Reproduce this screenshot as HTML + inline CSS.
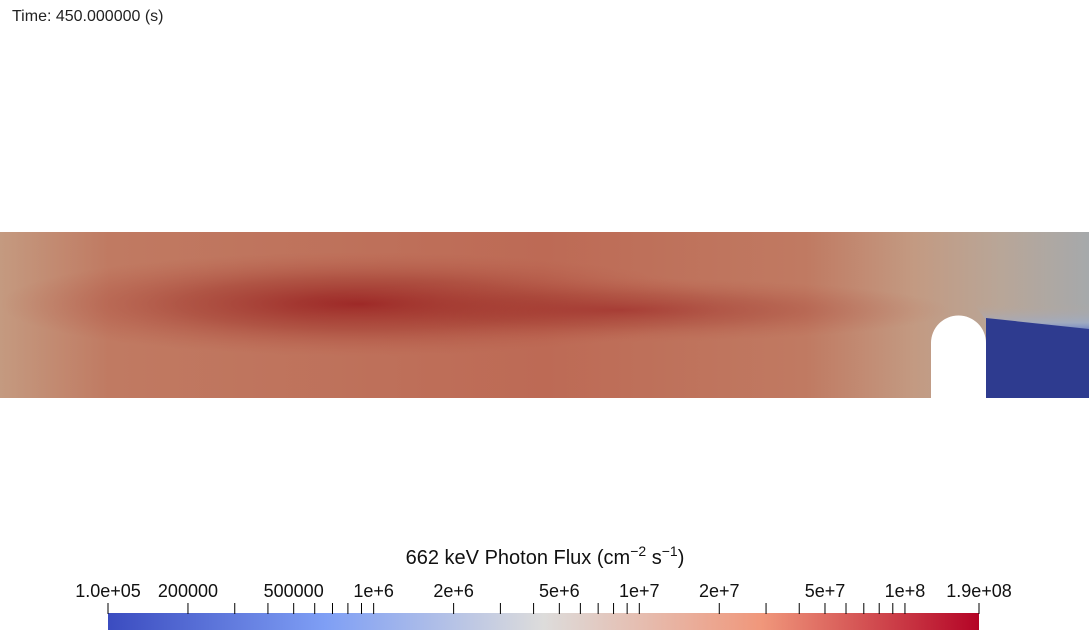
<!DOCTYPE html>
<html><head><meta charset="utf-8"><style>
body{margin:0;background:#fff;width:1089px;height:630px;overflow:hidden;font-family:"Liberation Sans","DejaVu Sans",sans-serif}
</style></head><body>
<svg width="1089" height="630" viewBox="0 0 1089 630">
<defs>
<linearGradient id="base" x1="0" x2="1" y1="0" y2="0">
<stop offset="0" stop-color="#c49a80"/><stop offset="0.1" stop-color="#c07a62"/>
<stop offset="0.5" stop-color="#bd6a55"/><stop offset="0.74" stop-color="#c07a62"/>
<stop offset="0.84" stop-color="#c39a82"/><stop offset="0.92" stop-color="#b8a698"/>
<stop offset="1" stop-color="#a6a9ab"/></linearGradient>
<radialGradient id="band" cx="0.5" cy="0.5" r="0.5">
<stop offset="0" stop-color="#9b2424" stop-opacity="1"/><stop offset="0.5" stop-color="#a33a30" stop-opacity="0.55"/>
<stop offset="1" stop-color="#b85a48" stop-opacity="0"/></radialGradient>
<linearGradient id="vfade" x1="0" x2="0" y1="0" y2="1">
<stop offset="0" stop-color="#fff" stop-opacity="0"/><stop offset="0.4" stop-color="#b8a698" stop-opacity="0"/>
<stop offset="0.8" stop-color="#9aacd0" stop-opacity="0.6"/><stop offset="1" stop-color="#5a70c0" stop-opacity="1"/></linearGradient>
<linearGradient id="cbar" x1="0" x2="1">
<stop offset="0" stop-color="#3b4cc0"/><stop offset="0.25" stop-color="#7f9ff5"/>
<stop offset="0.5" stop-color="#dddcdb"/><stop offset="0.75" stop-color="#f0977b"/>
<stop offset="1" stop-color="#b40426"/></linearGradient>
</defs>
<text x="12" y="21" font-size="16" fill="#222">Time: 450.000000 (s)</text>
<g>
<rect x="0" y="232" width="1089" height="166" fill="url(#base)"/>
<ellipse cx="360" cy="304" rx="360" ry="52" fill="url(#band)"/>
<ellipse cx="620" cy="310" rx="330" ry="32" fill="url(#band)" opacity="0.6"/>
<polygon points="960,285 1089,285 1089,332 986,320" fill="url(#vfade)"/>
<polygon points="986,318 1089,329 1089,398 986,398" fill="#2e3b8f"/>
<path d="M931,398 L931,343 A27,27 0 0 1 986,343 L986,398 Z" fill="#fff"/>
</g>
<g>
<text x="545" y="564" font-size="20" text-anchor="middle" fill="#111">662 keV Photon Flux (cm<tspan dy="-8" font-size="14">−2</tspan><tspan dy="8"> s</tspan><tspan dy="-8" font-size="14">−1</tspan><tspan dy="8">)</tspan></text>
<rect x="108" y="613" width="871" height="17" fill="url(#cbar)"/>
<g id="ticks"></g>
</g>
</svg>
<script>
const tickValues=[1e5,2e5,3e5,4e5,5e5,6e5,7e5,8e5,9e5,1e6,2e6,3e6,4e6,5e6,6e6,7e6,8e6,9e6,1e7,2e7,3e7,4e7,5e7,6e7,7e7,8e7,9e7,1e8,1.9e8];
const labelValues=[1e5,2e5,5e5,1e6,2e6,5e6,1e7,2e7,5e7,1e8,1.9e8];
const labelTexts=["1.0e+05","200000","500000","1e+6","2e+6","5e+6","1e+7","2e+7","5e+7","1e+8","1.9e+08"];
const vmin=1e5,vmax=1.9e8;
function xs(v){return 108+(Math.log10(v)-Math.log10(vmin))/(Math.log10(vmax)-Math.log10(vmin))*871;}
const g=document.getElementById('ticks');const ns="http://www.w3.org/2000/svg";
tickValues.forEach(v=>{const l=document.createElementNS(ns,'line');
l.setAttribute('x1',xs(v));l.setAttribute('x2',xs(v));l.setAttribute('y1',603);l.setAttribute('y2',614);
l.setAttribute('stroke','#000');l.setAttribute('stroke-width','1');


g.appendChild(l);});
labelValues.forEach((v,i)=>{const t=document.createElementNS(ns,'text');
t.setAttribute('x',xs(v));t.setAttribute('y',597);t.setAttribute('text-anchor','middle');
t.setAttribute('font-size','18');t.setAttribute('fill','#111');t.textContent=labelTexts[i];


g.appendChild(t);});
</script>
</body></html>
